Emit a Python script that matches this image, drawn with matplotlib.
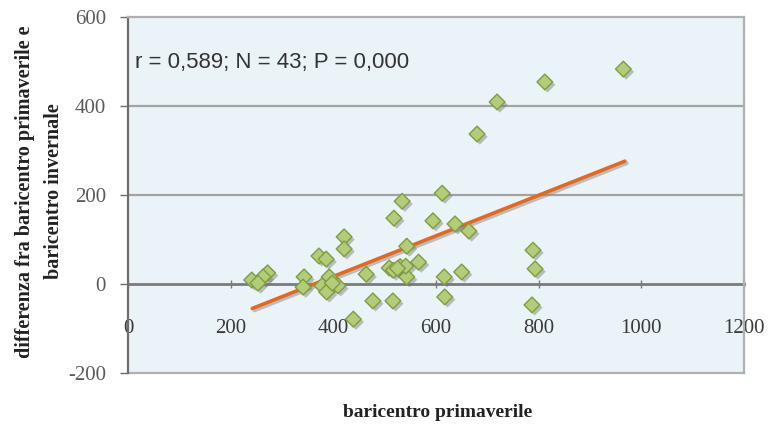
import matplotlib.pyplot as plt
import matplotlib.patheffects as pe

plt.rcParams['axes.unicode_minus'] = False

# values
prim = [965, 812, 719, 680, 612, 534, 518, 594, 637, 664,
        421, 421, 372, 386, 543, 566, 789, 793, 650, 616,
        617, 787, 543, 464, 272, 263, 241, 253, 343, 341,
        392, 378, 387, 409, 477, 516, 439, 509, 517, 530,
        541, 398, 525]
diff = [483, 454, 409, 337, 204, 186, 148, 142, 135, 119,
        106, 79, 63, 56, 85, 49, 76, 34, 27, 16,
        -29, -47, 16, 22, 25, 16, 9, 2, 16, -7,
        16, -4, -18, -4, -38, -38, -79, 36, 31, 39,
        40, 2, 35]

# trend line end points
trend_x = [242, 968]
trend_y = [-55, 276]

x_ticks = [0, 200, 400, 600, 800, 1000, 1200]
y_ticks = [-200, 0, 200, 400, 600]
stats_text = "r = 0,589; N = 43; P = 0,000"

fig = plt.figure(figsize=(7.7, 4.3), dpi=100)
ax = fig.add_axes([128 / 770, 57 / 430, 616 / 770, 356 / 430])
ax.set_facecolor('#eaf3f7')
ax.set_xlim(0, 1200)
ax.set_ylim(-200, 600)

# horizontal gridlines
for yv in [200, 400]:
    ax.axhline(yv, color='#a3a3a3', lw=1.6, zorder=1)
ax.axhline(-200, color='#b0b0b0', lw=1.6, zorder=1, clip_on=False)

for side in ['top', 'right']:
    ax.spines[side].set_color('#b0b0b0')
    ax.spines[side].set_linewidth(1.6)
ax.spines['left'].set_color('#6e6e6e')
ax.spines['left'].set_linewidth(1.6)
ax.spines['bottom'].set_position(('data', 0))
ax.spines['bottom'].set_color('#7a7a7a')
ax.spines['bottom'].set_linewidth(2)
ax.spines['bottom'].set_zorder(1.5)

serif = 'Liberation Serif'
ax.set_xticks(x_ticks)
ax.set_yticks(y_ticks)
ax.tick_params(axis='x', direction='inout', length=6, width=1, color='#7a7a7a',
               pad=22, labelsize=15, labelcolor='#3a3a3a')
ax.tick_params(axis='y', direction='out', length=6, width=1, color='#6e6e6e',
               pad=10, labelsize=15, labelcolor='#5a5a5a')
for lab in ax.get_xticklabels() + ax.get_yticklabels():
    lab.set_family(serif)

shadow = [pe.SimpleLineShadow(offset=(1.5, -1.5), shadow_color='#888888', alpha=0.5), pe.Normal()]
ax.plot(trend_x, trend_y, color='#e8671c', lw=2.6, zorder=3,
        path_effects=shadow, solid_capstyle='round')

mshadow = [pe.SimplePatchShadow(offset=(2, -2), shadow_rgbFace='#777777', alpha=0.45), pe.Normal()]
ax.scatter(prim, diff, marker='D', s=64, facecolor='#b3cc78', edgecolor='#7f9c43',
           linewidth=1.0, zorder=4, path_effects=mshadow)

ax.text(14, 497, stats_text, fontsize=16, family='Liberation Sans', color='#333333',
        va='center', ha='left')

ax.set_xlabel('baricentro primaverile', fontsize=14, family=serif, fontweight='bold',
              color='#222222', va='center')
ax.xaxis.set_label_coords(0.503, -0.11)
ax.set_ylabel('differenza fra baricentro primaverile e\nbaricentro invernale',
              fontsize=14.5, family=serif, fontweight='bold', color='#222222',
              linespacing=1.6, va='center')
ax.yaxis.set_label_coords(-0.143, 0.51)

plt.savefig('out.png', dpi=100)
